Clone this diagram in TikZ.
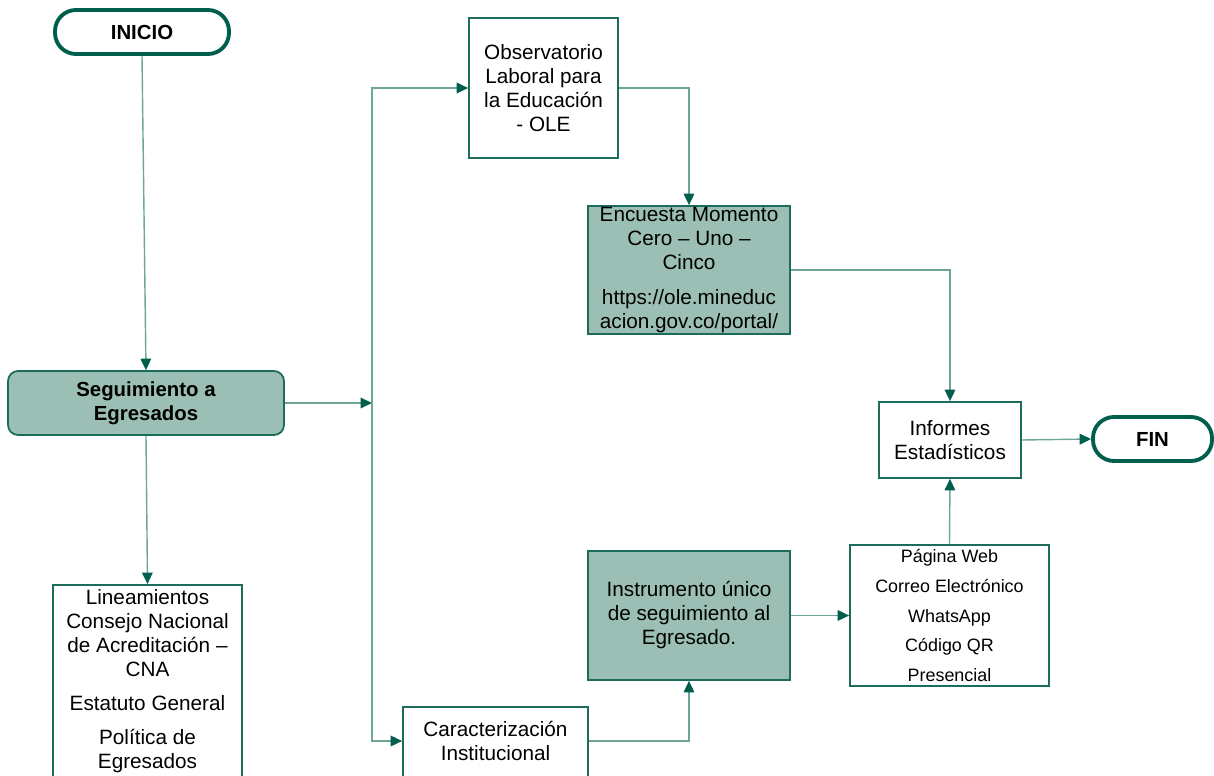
\documentclass[tikz,border=0pt]{standalone}
\usepackage{fontspec}
\setmainfont{Liberation Sans}
\usetikzlibrary{arrows.meta}

\definecolor{dkgreen}{RGB}{0,94,76}
\definecolor{boxline}{RGB}{28,108,92}
\definecolor{boxfill}{RGB}{155,191,181}
\definecolor{linkline}{RGB}{110,165,150}

\tikzset{
	box/.style={draw=boxline,line width=1pt,inner sep=0pt,align=center,font=\fontsize{11.8}{13.65}\selectfont},
	filled/.style={box,fill=boxfill},
	term/.style={draw=dkgreen,line width=2.2pt,rounded corners=0.42cm,inner sep=0pt,font=\fontsize{11.6}{13.65}\selectfont\bfseries},
	txt/.style={inner sep=0pt,align=center,font=\fontsize{11.8}{13.65}\selectfont},
	link/.style={draw=linkline,line width=0.8pt},
	tip/.style={link,-{Triangle[length=6.5pt,width=6pt,color=dkgreen]}}
}

\begin{document}
\begin{tikzpicture}[x=0.02cm,y=-0.02cm]
	\useasboundingbox (0,0) rectangle (1214,776);
	
	%start / end
	\node[term,minimum width=3.48cm,minimum height=0.88cm] (ini) at (142,32) {INICIO};
	\node[term,minimum width=2.38cm,minimum height=0.88cm] (fin) at (1152.5,439) {FIN};
	
	%left column
	\node[filled,rounded corners=0.2cm,minimum width=5.52cm,minimum height=1.28cm,font=\fontsize{11.6}{13.65}\selectfont\bfseries] (seg) at (146,403) {Seguimiento a\\Egresados};
	\node[box,anchor=north,minimum width=3.78cm,minimum height=5cm] (linbox) at (147.5,584) {};
	\node[txt] (lin) at (147.5,681) {Lineamientos\\Consejo Nacional\\de Acreditación –\\CNA\\[5.7pt]Estatuto General\\[5.7pt]Política de\\Egresados};
	
	%middle
	\node[box,minimum width=2.98cm,minimum height=2.8cm] (obs) at (543.5,88) {Observatorio\\Laboral para\\la Educación\\- OLE};
	\node[filled,minimum width=4.04cm,minimum height=2.56cm] (enc) at (689,270) {Encuesta Momento\\Cero – Uno –\\Cinco\\[6.8pt]https://ole.mineduc\\acion.gov.co/portal/};
	\node[filled,minimum width=4.04cm,minimum height=2.58cm] (ins) at (689,615.5) {Instrumento único\\de seguimiento al\\Egresado.};
	\node[box,anchor=north,minimum width=3.7cm,minimum height=3cm] (carbox) at (495.5,706) {};
	\node[txt] (car) at (495.5,741) {Caracterización\\Institucional};
	
	%right
	\node[box,minimum width=2.84cm,minimum height=1.52cm] (inf) at (950,440) {Informes\\Estadísticos};
	\node[box,minimum width=3.98cm,minimum height=2.82cm,font=\fontsize{10.2}{16.8}\selectfont] (pag) at (949.5,615.5) {Página Web\\Correo Electrónico\\WhatsApp\\Código QR\\Presencial};
	
	%split line
	\coordinate (split) at (372,403);
	\draw[tip] (ini.south) -- (seg.north);
	\draw[tip] (seg.east) -- (split);
	\draw[tip] (split) |- (obs.west);
	\draw[tip] (split) |- (carbox.west |- car);
	\draw[tip] (seg.south) -- (linbox.north);
	
	%upper branch
	\draw[tip] (obs.east) -| (enc.north);
	\draw[tip] (enc.east) -| (inf.north);
	\draw[tip] (inf.east) -- (fin.west);
	
	%lower branch
	\draw[tip] (carbox.east |- car) -| (ins.south);
	\draw[tip] (ins.east) -- (pag.west);
	\draw[tip] (pag.north) -- (inf.south);
\end{tikzpicture}
\end{document}
